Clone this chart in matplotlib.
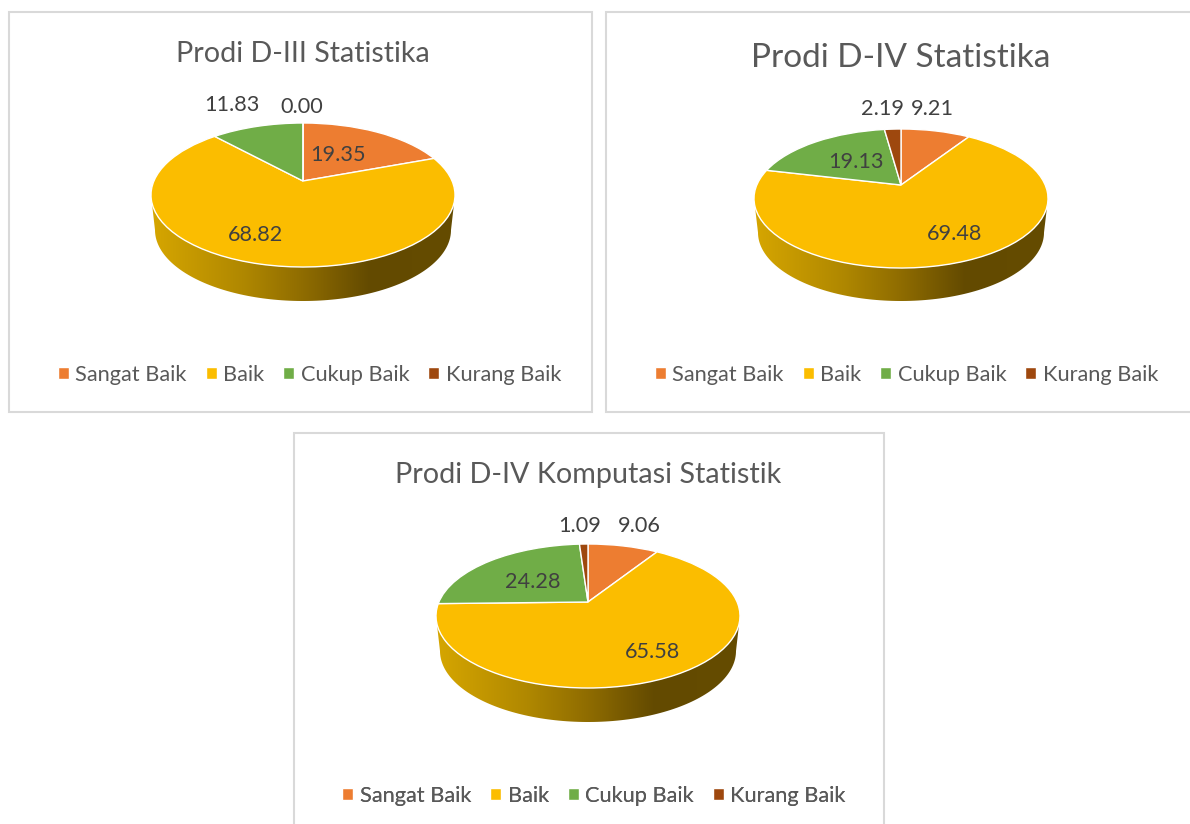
import numpy as np
import matplotlib
matplotlib.use("Agg")
import matplotlib.pyplot as plt
from matplotlib.colors import LinearSegmentedColormap
from matplotlib.patches import Rectangle, Polygon
from matplotlib.transforms import Transform

plt.rcParams['font.family'] = ['Lato', 'DejaVu Sans']

categories = ["Sangat Baik", "Baik", "Cukup Baik", "Kurang Baik"]
titles = ["Prodi D-III Statistika", "Prodi D-IV Statistika", "Prodi D-IV Komputasi Statistik"]
d3_stat = [19.35, 68.82, 11.83, 0.00]
d4_stat = [9.21, 69.48, 19.13, 2.19]
d4_komp = [9.06, 65.58, 24.28, 1.09]
colors = ["#ED7D31", "#FBBD00", "#70AD47", "#9E480E"]
wall_colors = [(0, "#D6A600"), (0.3, "#B08800"), (0.5, "#8F6C00"), (0.72, "#634A00"), (1, "#654C00")]

W, H = 1190, 824

# layout in image pixels
panels = [(9, 12, 583, 400), (606, 12, 600, 400), (294, 433, 590, 410)]
title_pos = [(303, 53.5), (901, 57.5), (588, 474.5)]
title_size = [20.6, 24, 20.7]
apex = [(303, 181), (901, 185), (588, 602)]
top_r = [58, 56, 58]
bot_r = [86, 83, 86]
half_w = [152, 147, 152]
depth = [34, 33, 34]
legend_pos = [(309.5, 375), (906.5, 375), (594, 796)]
label_pos = [
    [(338, 155), (256, 235), (232, 105), (302, 107)],
    [(932, 109), (955, 234), (856, 162), (882, 109)],
    [(639, 526), (653, 652), (533, 582), (580, 526)],
]


class Persp(Transform):
    # circle seen at a tilt, the centre sits above the middle of the ellipse
    input_dims = 2
    output_dims = 2

    def __init__(self, a, b, k):
        super().__init__()
        self.a, self.b, self.k = a, b, k

    def transform_non_affine(self, xy):
        xy = np.asarray(xy, dtype=float)
        s = 1 / (1 + self.k * xy[:, 1])
        return np.column_stack([self.a * xy[:, 0] * s, self.b * xy[:, 1] * s])


fig = plt.figure(figsize=(W / 100, H / 100), dpi=100)
bg = fig.add_axes([0, 0, 1, 1])
bg.set_xlim(0, W)
bg.set_ylim(H, 0)
bg.axis("off")

all_values = [d3_stat, d4_stat, d4_komp]
for i, values in enumerate(all_values):
    x0, y0, w, h = panels[i]
    bg.add_patch(Rectangle((x0, y0), w, h, fc="white", ec="#D9D9D9", lw=1.5))
    bg.text(title_pos[i][0], title_pos[i][1], titles[i], fontsize=title_size[i],
            color="#595959", ha="center", va="center")

    cx, cy = apex[i]
    left, right, up, down = 175, 175, 90, 135
    ax = fig.add_axes([(cx - left) / W, 1 - (cy + down) / H, (left + right) / W, (up + down) / H])
    ax.patch.set_alpha(0)
    wedges, _ = ax.pie(values, startangle=90, counterclock=False, colors=colors,
                       wedgeprops={"edgecolor": "white", "linewidth": 1.0, "zorder": 3})

    t, b = top_r[i], bot_r[i]
    k = (b - t) / (b + t)
    persp = Persp(half_w[i] * np.sqrt(1 - k ** 2), t * (1 + k), k)
    for wd in wedges:
        wd.set_transform(persp + ax.transData)

    # side wall of the pie
    th = np.linspace(np.pi, 2 * np.pi, 120)
    mid = (t - b) / 2
    hh = (t + b) / 2
    d = depth[i]
    upper = np.column_stack([half_w[i] * np.cos(th), mid + hh * np.sin(th)])
    lower = np.column_stack([(half_w[i] - 4) * np.cos(th[::-1]),
                             mid - d - 1 + (hh - 1) * np.sin(th[::-1])])
    wall = Polygon(np.vstack([upper, lower]), closed=True, fc="none", ec="none",
                   transform=ax.transData)
    ax.add_patch(wall)
    cmap = LinearSegmentedColormap.from_list("wall", wall_colors)
    im = ax.imshow(np.linspace(0, 1, 256).reshape(1, -1), cmap=cmap, aspect="auto",
                   extent=(-half_w[i], half_w[i], -b - d - 2, mid + 5), zorder=1)
    im.set_clip_path(wall)

    ax.set_aspect("auto")
    ax.set_xlim(-left, right)
    ax.set_ylim(-down, up)
    ax.axis("off")

    for v, (lx, ly) in zip(values, label_pos[i]):
        ax.text(lx - cx, cy - ly, f"{v:.2f}", fontsize=15.6, color="#404040",
                ha="center", va="center", zorder=5, clip_on=False)

    bg.legend(wedges, categories, loc="center", bbox_to_anchor=legend_pos[i],
              bbox_transform=bg.transData, ncol=4, frameon=False, fontsize=15.7,
              labelcolor="#595959", handlelength=0.5, handleheight=0.5,
              handletextpad=0.3, columnspacing=0.87, borderpad=0)
    bg.add_artist(bg.get_legend())

fig.savefig("out.png", dpi=100)
